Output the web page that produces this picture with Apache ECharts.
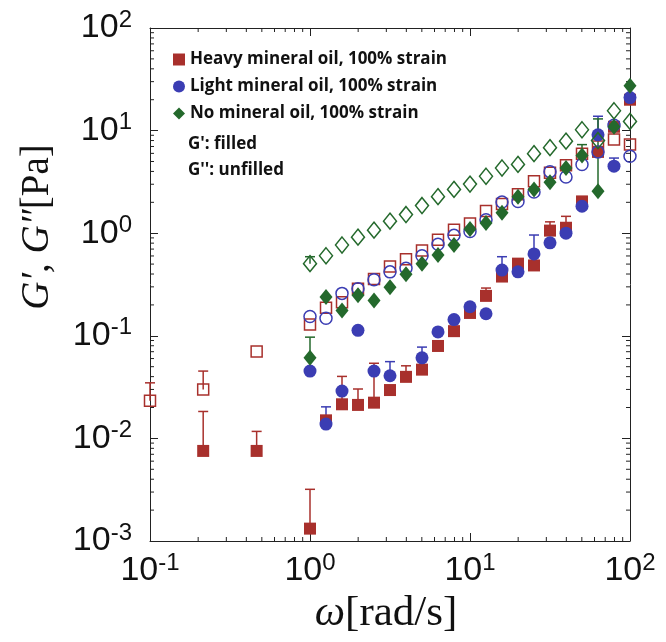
<!DOCTYPE html>
<html lang="en">
<head>
    <meta charset="utf-8">
    <title>G', G'' vs omega</title>
    <script src="https://cdn.jsdelivr.net/npm/echarts@6/dist/echarts.min.js"></script>
    <style>
        html, body { margin: 0; padding: 0; background: #fff; }
        #main { width: 666px; height: 642px; }
    </style>
</head>
<body>
<div id="main"></div>
<script type="text/javascript">
    // frequencies [rad/s]
    var freq = [0.1, 0.215, 0.464, 1, 1.259, 1.585, 1.995, 2.512, 3.162, 3.981, 5.012, 6.31,
        7.943, 10, 12.59, 15.85, 19.95, 25.12, 31.62, 39.81, 50.12, 63.1, 79.43, 100];

    // heavy mineral oil
    var heavyG1 = [null, 0.00755, 0.00755, 0.00132, 0.015, 0.0215, 0.0212, 0.0223, 0.0296, 0.0398, 0.0468, 0.0796,
        0.111, 0.167, 0.245, 0.378, 0.505, 0.485, 1.06, 1.13, 2.04, 6.2, 10.9, 20];
    var heavyG2 = [0.0233, 0.030, 0.0705, 0.129, 0.188, 0.212, 0.288, 0.357, 0.473, 0.556, 0.68, 0.865,
        1.08, 1.24, 1.65, 1.93, 2.4, 3.2, 3.89, 4.6, 5.96, 7.0, 8.2, 7.3];
    // light mineral oil
    var lightG1 = [null, null, null, 0.0453, 0.0138, 0.0289, 0.113, 0.0453, 0.0408, null, 0.061, 0.109,
        0.144, 0.192, 0.164, 0.437, 0.42, 0.628, 0.805, 1.0, 1.83, 9.1, 4.5, 21];
    var lightG2 = [null, null, null, 0.154, 0.148, 0.259, 0.288, 0.352, 0.42, 0.455, 0.603, 0.78,
        0.953, 1.04, 1.35, 2.01, 2.04, 2.52, 3.98, 3.53, 4.68, 6.2, 11.3, 5.63];
    // no mineral oil
    var noneG1 = [null, null, null, 0.061, 0.239, 0.176, 0.249, 0.221, 0.297, 0.397, 0.505, 0.612,
        0.767, 1.1, 1.26, 1.58, 2.27, 2.67, 3.13, 4.32, 5.72, 2.56, 10.9, 27.4];
    var noneG2 = [null, null, null, 0.505, 0.603, 0.767, 0.915, 1.07, 1.31, 1.52, 1.86, 2.27,
        2.67, 3.01, 3.59, 4.32, 4.68, 5.96, 6.82, 7.89, 10.2, 8.0, 15.6, 12.3];

    // upper ends of error bars (null = not visible)
    var heavyG1Err = [null, 0.0183, 0.0117, 0.00319, 0.0165, 0.0402, 0.0303, 0.054, null, 0.051, null, null,
        null, null, 0.292, null, 0.56, null, 1.29, 1.46, 2.27, null, null, null];
    var heavyG2Err = [0.0348, 0.0453, null, null, null, null, null, null, null, null, null, null,
        null, null, null, null, null, null, null, null, null, null, null, null];
    var lightG1Err = [null, null, null, null, 0.0203, null, null, null, 0.056, null, 0.0776, null,
        null, null, null, 0.59, null, 0.96, null, 1.15, null, 13.8, 5.4, null];
    var noneG1Err = [null, null, null, 0.097, null, null, null, null, null, null, null, null,
        null, null, null, null, null, null, null, null, 7.3, 13.0, null, null];
    var noneG2Err = [null, null, null, 0.59, null, null, null, null, null, null, null, null,
        null, null, null, null, null, null, null, null, null, null, null, null];

    var RED = '#a8302c', BLUE = '#3b3db3', GREEN = '#24692c';

    function pts(vals) {
        var out = [];
        for (var i = 0; i < freq.length; i++) {
            if (vals[i] != null) out.push([freq[i], vals[i]]);
        }
        return out;
    }
    function errPts(vals, tops) {
        var out = [];
        for (var i = 0; i < freq.length; i++) {
            if (vals[i] != null && tops[i] != null) out.push([freq[i], vals[i], tops[i]]);
        }
        return out;
    }

    // minor tick values 2..9 of each decade
    function minorVals(lo, hi) {
        var out = [];
        for (var d = lo; d < hi; d++) {
            for (var k = 2; k <= 9; k++) out.push(k * Math.pow(10, d));
        }
        return out;
    }
    var minorX = minorVals(-1, 2);
    var minorY = minorVals(-3, 2);

    var myChart = echarts.init(document.getElementById('main'));

    function errorSeries(data, color) {
        return {
            type: 'custom',
            data: data,
            z: 1,
            silent: true,
            renderItem: function (params, api) {
                var p0 = api.coord([api.value(0), api.value(1)]);
                var p1 = api.coord([api.value(0), api.value(2)]);
                var style = {stroke: color, lineWidth: 1.5};
                return {
                    type: 'group',
                    children: [
                        {type: 'line', shape: {x1: p0[0], y1: p0[1], x2: p1[0], y2: p1[1]}, style: style},
                        {type: 'line', shape: {x1: p1[0] - 5, y1: p1[1], x2: p1[0] + 5, y2: p1[1]}, style: style}
                    ]
                };
            }
        };
    }

    function minorSeries(vals, isX) {
        return {
            type: 'custom',
            data: vals.map(function (v) { return [v]; }),
            silent: true,
            clip: false,
            renderItem: function (params, api) {
                var v = api.value(0);
                var st = {stroke: '#222', lineWidth: 1};
                var a, b;
                if (isX) {
                    a = api.coord([v, 0.001]);
                    b = api.coord([v, 100]);
                    return {type: 'group', children: [
                        {type: 'line', shape: {x1: a[0], y1: a[1], x2: a[0], y2: a[1] - 4}, style: st},
                        {type: 'line', shape: {x1: b[0], y1: b[1], x2: b[0], y2: b[1] + 4}, style: st}
                    ]};
                }
                a = api.coord([0.1, v]);
                b = api.coord([100, v]);
                return {type: 'group', children: [
                    {type: 'line', shape: {x1: a[0], y1: a[1], x2: a[0] + 4, y2: a[1]}, style: st},
                    {type: 'line', shape: {x1: b[0], y1: b[1], x2: b[0] - 4, y2: b[1]}, style: st}
                ]};
            }
        };
    }

    var tickLabel = {
        formatter: function (v) {
            return '{b|10}{s|' + Math.round(Math.log10(v)) + '}';
        },
        rich: {
            b: {fontSize: 34, fontFamily: 'Liberation Sans', color: '#111'},
            s: {fontSize: 24, fontFamily: 'Liberation Sans', color: '#111', verticalAlign: 'top', padding: [0, 0, 16, 0]}
        }
    };

    function logAxis(pos, min, max, labels, margin) {
        return {
            type: 'log',
            logBase: 10,
            position: pos,
            min: min,
            max: max,
            splitLine: {show: false},
            axisLine: {show: true, lineStyle: {color: '#222', width: 1}},
            axisTick: {show: true, inside: true, length: 8, lineStyle: {color: '#222'}},
            axisLabel: labels ? Object.assign({show: true, margin: margin}, tickLabel) : {show: false}
        };
    }

    var option = {
        animation: false,
        grid: {left: 150, right: 36, top: 28, bottom: 101},
        xAxis: [logAxis('bottom', 0.1, 100, true, 10), logAxis('top', 0.1, 100, false)],
        yAxis: [logAxis('left', 0.001, 100, true, 18), logAxis('right', 0.001, 100, false)],
        legend: {
            orient: 'vertical',
            left: 168,
            top: 46,
            itemWidth: 12,
            itemHeight: 12,
            itemGap: 10,
            data: ['Heavy mineral oil, 100% strain', 'Light mineral oil, 100% strain', 'No mineral oil, 100% strain'],
            textStyle: {fontFamily: 'Open Sans', fontWeight: 'bold', fontSize: 17, color: '#111'}
        },
        graphic: [
            {type: 'text', left: 188, top: 136, style: {text: "G': filled", font: 'bold 17px "Open Sans"', fill: '#111'}},
            {type: 'text', left: 188, top: 162, style: {text: "G'': unfilled", font: 'bold 17px "Open Sans"', fill: '#111'}},
            {
                type: 'text', x: 38, y: 227, rotation: Math.PI / 2, style: {
                    text: '{i|G′, G″}{r|[Pa]}', align: 'center', verticalAlign: 'middle',
                    rich: {
                        i: {fontSize: 39, fontFamily: 'Liberation Serif', fontStyle: 'italic', fill: '#111'},
                        r: {fontSize: 39, fontFamily: 'Liberation Serif', fill: '#111'}
                    }
                }
            },
            {
                type: 'text', x: 386, y: 614, style: {
                    text: '{i|ω}{r|[rad/s]}', align: 'center', verticalAlign: 'middle',
                    rich: {
                        i: {fontSize: 43, fontFamily: 'Liberation Serif', fontStyle: 'italic', fill: '#111'},
                        r: {fontSize: 43, fontFamily: 'Liberation Serif', fill: '#111'}
                    }
                }
            }
        ],
        series: [
            minorSeries(minorX, true),
            minorSeries(minorY, false),
            errorSeries(errPts(heavyG1, heavyG1Err), RED),
            errorSeries(errPts(heavyG2, heavyG2Err), RED),
            errorSeries(errPts(lightG1, lightG1Err), BLUE),
            errorSeries(errPts(noneG1, noneG1Err), GREEN),
            errorSeries(errPts(noneG2, noneG2Err), GREEN),
            {
                name: 'Heavy mineral oil, 100% strain', type: 'scatter', data: pts(heavyG1),
                symbol: 'rect', symbolSize: 12, z: 3, itemStyle: {color: RED, opacity: 1}
            },
            {
                name: 'heavy open', type: 'scatter', data: pts(heavyG2),
                symbol: 'rect', symbolSize: 11, z: 3,
                itemStyle: {color: 'rgba(0,0,0,0)', borderColor: RED, borderWidth: 1.5, opacity: 1}
            },
            {
                name: 'Light mineral oil, 100% strain', type: 'scatter', data: pts(lightG1),
                symbol: 'circle', symbolSize: 13, z: 3, itemStyle: {color: BLUE, opacity: 1}
            },
            {
                name: 'light open', type: 'scatter', data: pts(lightG2),
                symbol: 'circle', symbolSize: 12, z: 3,
                itemStyle: {color: 'rgba(0,0,0,0)', borderColor: BLUE, borderWidth: 1.5, opacity: 1}
            },
            {
                name: 'No mineral oil, 100% strain', type: 'scatter', data: pts(noneG1),
                symbol: 'diamond', symbolSize: [13, 16], z: 3, itemStyle: {color: GREEN, opacity: 1}
            },
            {
                name: 'no open', type: 'scatter', data: pts(noneG2),
                symbol: 'diamond', symbolSize: [13, 16], z: 3,
                itemStyle: {color: 'rgba(0,0,0,0)', borderColor: GREEN, borderWidth: 1.5, opacity: 1}
            }
        ]
    };
    myChart.setOption(option);
</script>
</body>
</html>
